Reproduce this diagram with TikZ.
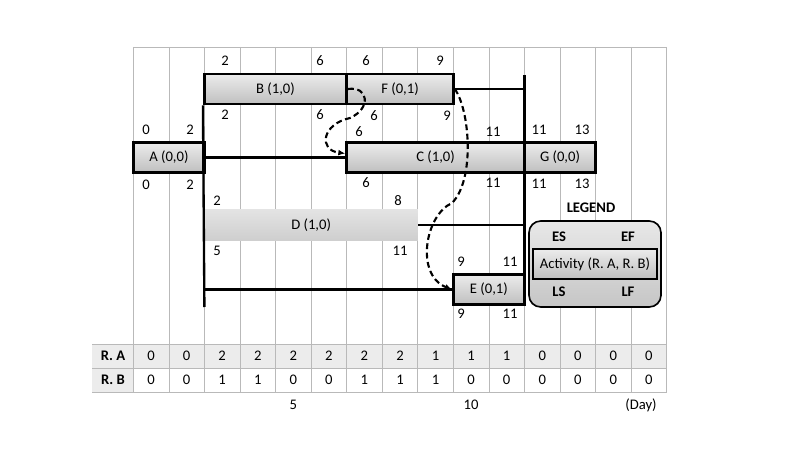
\documentclass[tikz,border=0pt]{standalone}
\usepackage{fontspec}
\setmainfont{Carlito}
\usepackage{tikz}
\usetikzlibrary{arrows.meta,calc}

\begin{document}
\begin{tikzpicture}[
  x=0.03cm, y=-0.03cm,
  font=\fontsize{12.5}{15}\selectfont,
  gridline/.style={gray!55, line width=0.6pt},
  task/.style={rectangle, draw, line width=2.4pt, top color=gray!15, bottom color=gray!50, minimum height=0.9cm, inner sep=0},
  slack/.style={rectangle, top color=gray!22, bottom color=gray!38, minimum height=0.9cm, inner sep=0},
  legendbox/.style={rectangle, draw, line width=1.4pt, rounded corners=10pt, top color=gray!18, bottom color=gray!45, inner sep=0},
  num/.style={inner sep=0},
  head/.style={inner sep=0, font=\fontsize{12.5}{15}\selectfont\bfseries},
  link/.style={line width=2pt},
  depend/.style={-{Latex[length=6pt,width=5pt]}, line width=1.8pt, dash pattern=on 5pt off 3pt}
]

\useasboundingbox (0,0) rectangle (800,450);

\fill[gray!15] (92,344) rectangle (666.7,368);
\fill[gray!15] (92,368) rectangle (133.3,392);
\foreach \t in {0,...,15}
  \draw[gridline] (133.3+35.56*\t,47) -- (133.3+35.56*\t,392);
\draw[gridline] (133.3,47) -- (666.7,47);
\foreach \y in {344,368,392}
  \draw[gridline] (92,\y) -- (666.7,\y);

\node[head] (ra) at (113,356) {R. A};
\node[head] (rb) at (113,380) {R. B};
\foreach \v [count=\i] in {0,0,2,2,2,2,2,2,1,1,1,0,0,0,0}
  \node[num] (a\i) at (115.5+35.56*\i,356) {\v};
\foreach \v [count=\i] in {0,0,1,1,0,0,1,1,1,0,0,0,0,0,0}
  \node[num] (b\i) at (115.5+35.56*\i,380) {\v};

\node[num] (day5) at (293.3,405) {5};
\node[num] (day10) at (471.1,405) {10};
\node[num] (dayunit) at (641,405) {(Day)};

\coordinate (topR) at (524.5,75);
\coordinate (botR) at (524.5,306);
\coordinate (botL) at (204.4,307);
\draw[link] (topR) -- (botR);

\node[task, minimum width=2.13cm] (A) at (168.9,157.5) {A (0,0)};
\node[task, minimum width=4.27cm] (B) at (275.5,89) {B (1,0)};
\node[task, minimum width=3.2cm] (F) at (400,89) {F (0,1)};
\node[task, minimum width=5.33cm] (C) at (435.6,157.5) {C (1,0)};
\node[task, minimum width=2.13cm] (G) at (560,157.5) {G (0,0)};
\node[slack, minimum width=6.4cm] (D) at (311.1,225) {D (1,0)};
\node[task, minimum width=2.13cm] (E) at (488.9,289.5) {E (0,1)};

\draw[link] (B.south west) -- (botL);
\draw[link] (A.east) -- (C.west);
\draw[link] (F.east) -- (F.east -| topR);
\draw[link] (D.east) -- (D.east -| topR);
\draw[link] (botL |- E.west) -- (E.west);

\draw[depend] (B.east) .. controls (368,86) and (372,108) .. (350,118)
  .. controls (322,124) and (318,150) .. ($(C.west)+(0,-4)$);
\draw[depend] (F.east) .. controls (470,110) and (475,180) .. (452,203)
  .. controls (425,215) and (415,275) .. (E.west);

\foreach \x/\y/\v [count=\i] in {146/130/0, 190/130/2, 146/185/0, 190/185/2,
    225/61/2, 320/61/6, 225/115/2, 320/115/6,
    366/61/6, 440/61/9, 374/116/6, 447/116/9,
    359/132/6, 493/132/11, 366/183/6, 493/183/11,
    539/130/11, 582/130/13, 539/184/11, 582/184/13,
    217/201/2, 398/201/8, 217/251/5, 400/251/11,
    461/262/9, 510/262/11, 461/314/9, 510/314/11}
  \node[num] (n\i) at (\x,\y) {\v};

\node[head] (legendtitle) at (591,208) {LEGEND};
\node[legendbox, minimum width=3.96cm, minimum height=2.58cm] (legend) at (595,264) {};
\node[task, minimum width=3.72cm] (act) at (595,264) {Activity (R. A, R. B)};
\node[head] (es) at (559,237) {ES};
\node[head] (ef) at (628,237) {EF};
\node[head] (ls) at (559,292) {LS};
\node[head] (lf) at (628,292) {LF};

\end{tikzpicture}
\end{document}
